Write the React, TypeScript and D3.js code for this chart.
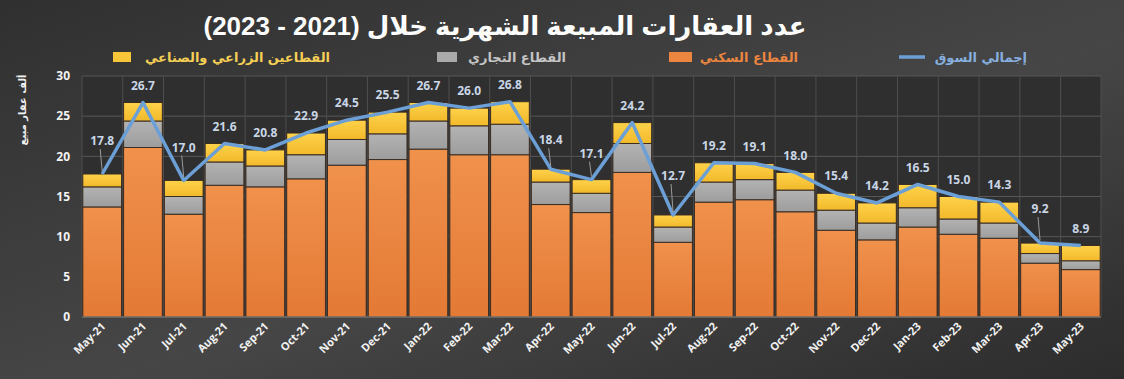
import React from "react";
import * as d3 from "d3";

const months = ["May-21","Jun-21","Jul-21","Aug-21","Sep-21","Oct-21","Nov-21","Dec-21","Jan-22","Feb-22","Mar-22","Apr-22","May-22","Jun-22","Jul-22","Aug-22","Sep-22","Oct-22","Nov-22","Dec-22","Jan-23","Feb-23","Mar-23","Apr-23","May-23"];
const residential = [13.7,21.1,12.8,16.4,16.2,17.2,18.9,19.6,20.9,20.2,20.2,14.0,13.0,18.0,9.3,14.3,14.6,13.1,10.8,9.6,11.2,10.3,9.8,6.7,5.9];
const commercial = [2.5,3.3,2.2,2.9,2.6,3.0,3.2,3.2,3.5,3.6,3.8,2.8,2.4,3.6,1.9,2.5,2.5,2.7,2.5,2.1,2.4,1.9,1.9,1.2,1.1];
const agriIndustrial = [1.6,2.3,2.0,2.3,2.0,2.7,2.4,2.7,2.3,2.2,2.8,1.6,1.7,2.6,1.5,2.4,2.0,2.2,2.1,2.5,2.9,2.8,2.6,1.3,1.9];
const totals = [17.8,26.7,17.0,21.6,20.8,22.9,24.5,25.5,26.7,26.0,26.8,18.4,17.1,24.2,12.7,19.2,19.1,18.0,15.4,14.2,16.5,15.0,14.3,9.2,8.9];
const yTicks = [0,5,10,15,20,25,30];

// visual left-to-right order of the period as in the original
const titleYears = "(2023 - 2021)";
const titleText = "عدد العقارات المبيعة الشهرية خلال";
const yTitle = "ألف عقار مبيع";
const legendLabels = {
  total: "إجمالي السوق",
  residential: "القطاع السكني",
  commercial: "القطاع التجاري",
  agri: "القطاعين الزراعي والصناعي",
};

// label layout: months whose value label is lifted with a leader line
const leaderLift: Record<string, number> = {
  "May-21": 33, "Jul-21": 33, "Apr-22": 29, "May-22": 26, "Jul-22": 39, "Apr-23": 34,
};

const W = 1124, H = 379;
const M = { left: 82, right: 1101, top: 76, bottom: 317 };

export default function App() {
  const x = d3.scaleBand<string>().domain(months).range([M.left, M.right]).paddingInner(0.05).paddingOuter(0.02);
  const y = d3.scaleLinear().domain([0, 30]).range([M.bottom, M.top]);
  const step = x.step();

  const rows = months.map((m, i) => ({ m, residential: residential[i], commercial: commercial[i], agri: agriIndustrial[i] }));
  const stack = d3.stack<any>().keys(["residential", "commercial", "agri"])(rows);
  const fills: Record<string, string> = { residential: "url(#gOr)", commercial: "url(#gGr)", agri: "url(#gYe)" };

  const cx = (m: string) => (x(m) as number) + x.bandwidth() / 2;
  const line = d3.line<number>().x((_, i) => cx(months[i])).y((d) => y(d)).curve(d3.curveLinear);

  const arab = "'DejaVu Sans', sans-serif";
  const latin = "'Open Sans', 'DejaVu Sans', sans-serif";

  return (
    <svg width={W} height={H} style={{ display: "block", position: "absolute", left: 0, top: 0 }}>
      <style>{`body{margin:0}`}</style>
      <defs>
        <linearGradient id="bg" x1="0" y1="0" x2="1" y2="1">
          <stop offset="0" stopColor="#303030" />
          <stop offset="0.55" stopColor="#464646" />
          <stop offset="1" stopColor="#2c2c2c" />
        </linearGradient>
        <linearGradient id="gOr" x1="0" y1="0" x2="0" y2="1">
          <stop offset="0" stopColor="#f0914c" />
          <stop offset="1" stopColor="#e37a35" />
        </linearGradient>
        <linearGradient id="gGr" x1="0" y1="0" x2="0" y2="1">
          <stop offset="0" stopColor="#b3b3b3" />
          <stop offset="1" stopColor="#9d9d9d" />
        </linearGradient>
        <linearGradient id="gYe" x1="0" y1="0" x2="0" y2="1">
          <stop offset="0" stopColor="#ffd24a" />
          <stop offset="1" stopColor="#f2b92b" />
        </linearGradient>
      </defs>
      <rect x={0} y={0} width={W} height={H} fill="url(#bg)" />
      <rect x={M.left} y={M.top} width={M.right - M.left} height={M.bottom - M.top} fill="#2f2f2f" />

      {/* grid */}
      {yTicks.map((t) => (
        <line key={"h" + t} x1={M.left} x2={M.right} y1={y(t)} y2={y(t)} stroke="#575757" strokeWidth={1} />
      ))}
      {months.map((m, i) => (
        <line key={"v" + m} x1={M.left + i * step} x2={M.left + i * step} y1={M.top} y2={M.bottom} stroke="#4e4e4e" strokeWidth={1} />
      ))}
      <line x1={M.right} x2={M.right} y1={M.top} y2={M.bottom} stroke="#4e4e4e" />

      {/* bars */}
      {stack.map((s) => (
        <g key={s.key}>
          {s.map((d, i) => (
            <rect
              key={months[i]}
              x={x(months[i])}
              width={x.bandwidth()}
              y={y(d[1])}
              height={y(d[0]) - y(d[1])}
              fill={fills[s.key]}
              stroke="#3b2d22"
              strokeWidth={1}
            />
          ))}
        </g>
      ))}
      <line x1={M.left} x2={M.right} y1={y(0)} y2={y(0)} stroke="#8a8a8a" strokeWidth={1} />

      {/* total line */}
      <path d={line(totals) || ""} fill="none" stroke="#6b9fd6" strokeWidth={3.5} strokeLinejoin="round" />

      {/* value labels */}
      {totals.map((v, i) => {
        const m = months[i];
        const lift = leaderLift[m];
        const px = cx(m);
        const py = y(v);
        const ly = py - (lift ?? 17);
        return (
          <g key={"l" + m}>
            {lift && <line x1={px - 2} x2={px} y1={ly + 8} y2={py - 3} stroke="#9a9a9a" strokeWidth={1} />}
            <text x={px} y={ly} dy="0.35em" textAnchor="middle" fill="#c9d6e6" fontFamily={latin} fontWeight={700} fontSize={12}>
              {v.toFixed(1)}
            </text>
          </g>
        );
      })}

      {/* y axis ticks */}
      {yTicks.map((t) => (
        <text key={"yt" + t} x={70} y={y(t)} dy="0.35em" textAnchor="end" fill="#f2f2f2" fontFamily={latin} fontWeight={700} fontSize={12}>
          {t}
        </text>
      ))}
      <text transform={`translate(22,${110}) rotate(-90)`} textAnchor="middle" direction="rtl" fill="#f2f2f2" fontFamily={arab} fontWeight={700} fontSize={10} dy="0.35em">
        {yTitle}
      </text>

      {/* x labels */}
      {months.map((m) => (
        <text key={"xt" + m} transform={`translate(${cx(m) + 4},${327}) rotate(-45)`} textAnchor="end" fill="#f2f2f2" fontFamily={latin} fontWeight={700} fontSize={11}>
          {m}
        </text>
      ))}

      {/* title */}
      <text x={505} y={26} dy="0.35em" textAnchor="middle" direction="ltr" fill="#ffffff" fontFamily="'Liberation Sans', 'DejaVu Sans', sans-serif" fontWeight={700} fontSize={26}>
        {titleYears + " " + titleText}
      </text>

      {/* legend */}
      <g fontFamily={arab} fontWeight={700} fontSize={13}>
        <line x1={899} x2={925} y1={57} y2={57} stroke="#6b9fd6" strokeWidth={3.5} />
        <text x={1027} y={57} dy="0.35em" textAnchor="start" direction="rtl" fill="#86aede">{legendLabels.total}</text>
        <rect x={669} y={52} width={23} height={10} fill="#ec853f" />
        <text x={798} y={57} dy="0.35em" textAnchor="start" direction="rtl" fill="#ec853f">{legendLabels.residential}</text>
        <rect x={437} y={52} width={20} height={10} fill="#a9a9a9" />
        <text x={566} y={57} dy="0.35em" textAnchor="start" direction="rtl" fill="#c4c4c4">{legendLabels.commercial}</text>
        <rect x={113} y={52} width={18} height={10} fill="#f7c537" />
        <text x={330} y={57} dy="0.35em" textAnchor="start" direction="rtl" fill="#f5cf55">{legendLabels.agri}</text>
      </g>
    </svg>
  );
}
